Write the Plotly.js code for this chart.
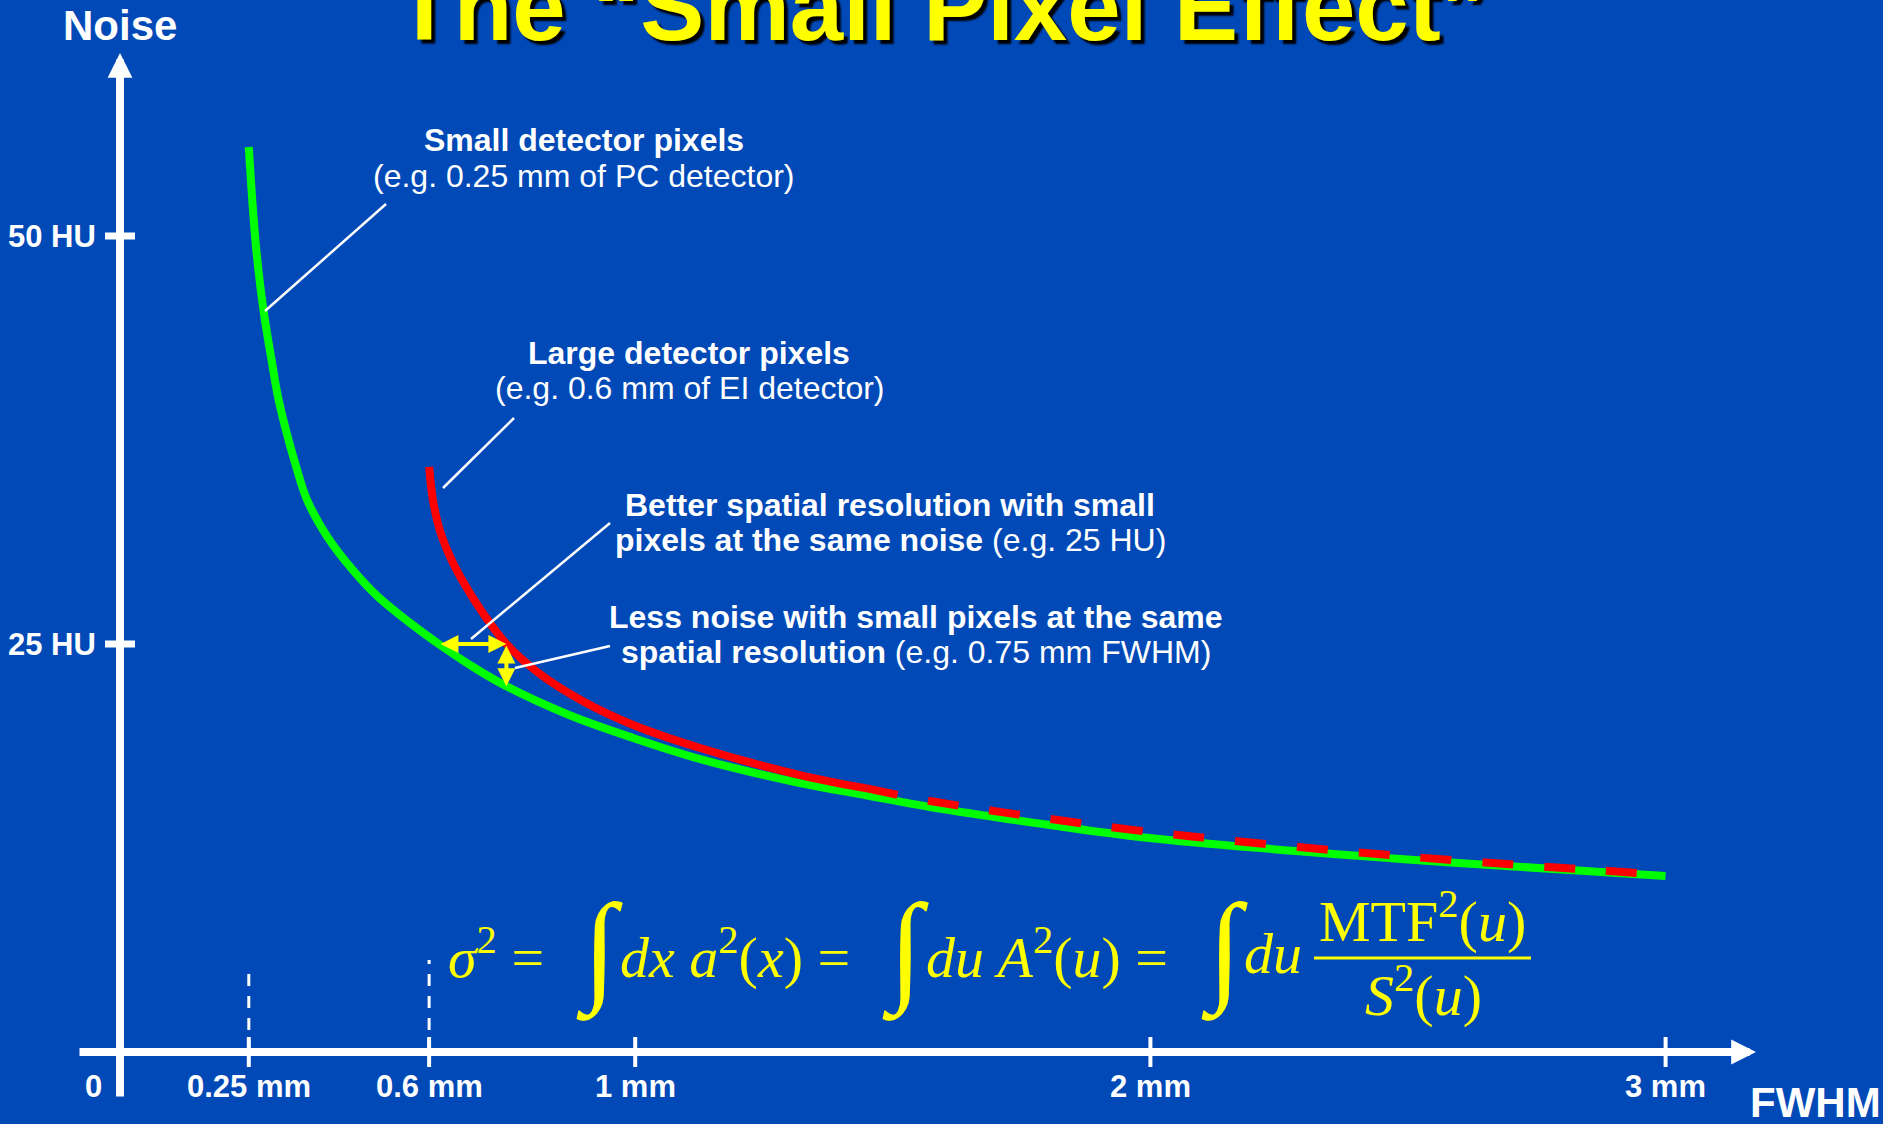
<!DOCTYPE html>
<html>
<head>
<meta charset="utf-8">
<script src="https://cdn.plot.ly/plotly-3.0.1.min.js"></script>
<style>
  html, body { margin: 0; padding: 0; background: #0049b7; overflow: hidden; }
  #chart { width: 1883px; height: 1124px; }
</style>
</head>
<body>
<div id="chart"></div>
<script>
// Image noise (HU) versus spatial resolution (FWHM, mm) for two detector pixel sizes
const fwhmSmall  = [0.25, 0.2567, 0.2646, 0.2784, 0.2942, 0.308, 0.3415, 0.3633, 0.4027, 0.4521, 0.5014, 0.5606, 0.6242, 0.6856, 0.7488, 0.8716, 0.9963, 1.1261, 1.3201, 1.45, 1.5723, 1.805, 2.0165, 2.4854, 2.8745, 3.0];
const noiseSmall = [55.45, 52.21, 49.14, 45.47, 42.4, 39.95, 35.91, 33.82, 31.56, 29.53, 27.88, 26.35, 24.88, 23.59, 22.43, 20.65, 19.24, 17.95, 16.48, 15.72, 15.01, 13.91, 13.05, 11.83, 11.03, 10.78];

const fwhmLarge  = [0.6, 0.6074, 0.6205, 0.6409, 0.6651, 0.7042, 0.75, 0.8102, 0.8977, 0.9963, 1.1261, 1.3201, 1.45, 1.5723, 1.805, 2.0165, 2.4854, 2.8745, 3.0];
const noiseLarge = [35.85, 33.82, 31.99, 30.33, 28.86, 26.9, 25.0, 23.28, 21.51, 20.04, 18.63, 16.97, 16.15, 15.38, 14.28, 13.42, 12.01, 11.12, 10.85];

// Beyond this width the large-pixel curve meets the small-pixel one and is drawn dashed
const mergeFwhm = 1.45;

// Worked example: same noise level / same resolution
const exampleNoise = 25;    // HU
const exampleFwhm  = 0.75;  // mm

// Axis ticks
const xTickVals = [0.25, 0.6, 1, 2, 3];
const xTickText = ['0.25 mm', '0.6 mm', '1 mm', '2 mm', '3 mm'];
const xGuideVals = [0.25, 0.6];
const yTickVals = [50, 25];
const yTickText = ['50 HU', '25 HU'];

// ---------------------------------------------------------------------------
const W = 1883, H = 1124;
const X0 = 120, XS = 515.2;   // pixel column of 0 mm, pixels per mm
const Y0 = 1052, YS = 16.32;  // pixel row of 0 HU, pixels per HU
const xRange = [-X0 / XS, (W - X0) / XS];
const yRange = [(Y0 - H) / YS, Y0 / YS];
const px = v => v / W;
const py = v => 1 - v / H;
const mmAt = p => (p - X0) / XS;
const huAt = p => (Y0 - p) / YS;

const SANS = 'Liberation Sans, Arial, sans-serif';
const SERIF = 'Liberation Serif, Times New Roman, serif';
const BG = '#0049b7', WHITE = '#ffffff', YELLOW = '#ffff00';
const GREEN = '#00ff00', RED = '#ff0000';

function interpX(xs, ys, y) {           // x where a decreasing curve reaches y
  for (let i = 0; i < ys.length - 1; i++) {
    if ((ys[i] - y) * (ys[i + 1] - y) <= 0) {
      const t = (y - ys[i]) / (ys[i + 1] - ys[i]);
      return xs[i] + t * (xs[i + 1] - xs[i]);
    }
  }
  return xs[0];
}
function interpY(xs, ys, x) {
  for (let i = 0; i < xs.length - 1; i++) {
    if (x >= xs[i] && x <= xs[i + 1]) {
      const t = (x - xs[i]) / (xs[i + 1] - xs[i]);
      return ys[i] + t * (ys[i + 1] - ys[i]);
    }
  }
  return ys[ys.length - 1];
}

const split = fwhmLarge.findIndex(v => v >= mergeFwhm);
const lineStyle = (color, dash) => ({ color, width: 8, shape: 'spline', smoothing: 1, dash: dash || 'solid' });

const traces = [
  { x: fwhmSmall, y: noiseSmall, mode: 'lines', line: lineStyle(GREEN), hoverinfo: 'skip' },
  { x: fwhmLarge.slice(0, split + 1), y: noiseLarge.slice(0, split + 1), mode: 'lines', line: lineStyle(RED), hoverinfo: 'skip' },
  { x: fwhmLarge.slice(split), y: noiseLarge.slice(split), mode: 'lines', line: lineStyle(RED, '31px,31px'), hoverinfo: 'skip' }
];

// ---------------------------------------------------------------------------
const shapes = [];
// tick marks crossing the axes
yTickVals.forEach(v => shapes.push({
  type: 'line', xref: 'x', yref: 'y', xsizemode: 'pixel', xanchor: 0,
  x0: -15, x1: 15, y0: v, y1: v, line: { color: WHITE, width: 7 }
}));
xTickVals.forEach(v => shapes.push({
  type: 'line', xref: 'x', yref: 'y', ysizemode: 'pixel', yanchor: 0,
  x0: v, x1: v, y0: -15, y1: 15, line: { color: WHITE, width: 4 }
}));
// dashed guides above the detector pixel sizes
xGuideVals.forEach((v, i) => shapes.push({
  type: 'line', xref: 'x', yref: 'y', ysizemode: 'pixel', yanchor: 0,
  x0: v, x1: v, y0: 0, y1: i === 0 ? 80 : 92, line: { color: WHITE, width: 3, dash: '12px,10px' }
}));
// callout leader lines
[[386, 204, 265, 311], [514, 418, 443, 488], [610, 523, 471, 639], [610, 646, 515, 668]].forEach(s => shapes.push({
  type: 'line', xref: 'paper', yref: 'paper', x0: px(s[0]), y0: py(s[1]), x1: px(s[2]), y1: py(s[3]),
  line: { color: WHITE, width: 2.5 }
}));
// fraction bar of the noise formula
shapes.push({ type: 'line', xref: 'paper', yref: 'paper', x0: px(1314), x1: px(1531), y0: py(958), y1: py(958),
  line: { color: YELLOW, width: 3 } });

// ---------------------------------------------------------------------------
const ann = [];
function text(t, xPix, yPix, size, o) {
  ann.push(Object.assign({
    text: t, xref: 'paper', yref: 'paper', x: px(xPix), y: py(yPix),
    xanchor: 'center', yanchor: 'middle', showarrow: false,
    font: { family: SANS, size: size, color: WHITE }
  }, o || {}));
}

// title and axis names
text('<b>The “Small Pixel Effect”</b>', 942, 6, 96,
  { font: { family: SANS, size: 96, color: YELLOW, shadow: '4px 4px 2px #000000' } });
text('<b>Noise</b>', 120, 26, 42);
text('<b>FWHM</b>', 1815, 1102, 42);

// axis arrows
const arrow = (x, y, ax, ay) => ann.push({
  x, y, ax, ay, xref: 'x', yref: 'y', axref: 'x', ayref: 'y', text: '', showarrow: true,
  arrowhead: 2, arrowsize: 0.62, arrowwidth: 8, arrowcolor: WHITE, standoff: 0
});
arrow(mmAt(1756), 0, mmAt(78), 0);
arrow(0, huAt(53), 0, huAt(1098));

// tick labels
xTickVals.forEach((v, i) => ann.push({
  text: '<b>' + xTickText[i] + '</b>', x: v, y: py(1086), xref: 'x', yref: 'paper',
  xanchor: 'center', yanchor: 'middle', showarrow: false, font: { family: SANS, size: 31, color: WHITE }
}));
text('<b>0</b>', 93, 1086, 31);
yTickVals.forEach((v, i) => ann.push({
  text: '<b>' + yTickText[i] + '</b>', x: px(98), y: v, xref: 'paper', yref: 'y',
  xanchor: 'right', yanchor: 'middle', showarrow: false, font: { family: SANS, size: 31, color: WHITE }
}));

// callouts
text('<b>Small detector pixels</b>', 584, 140, 32);
text('(e.g. 0.25 mm of PC detector)', 584, 176, 32);
text('<b>Large detector pixels</b>', 689, 353, 32);
text('(e.g. 0.6 mm of EI detector)', 689, 388, 32);
text('<b>Better spatial resolution with small</b>', 890, 505, 32);
text('<b>pixels at the same noise</b> (e.g. 25 HU)', 890, 540, 32);
text('<b>Less noise with small pixels at the same</b>', 916, 617, 32);
text('<b>spatial resolution</b> (e.g. 0.75 mm FWHM)', 916, 652, 32);

// double-headed comparison arrows
const greenAtNoise = interpX(fwhmSmall, noiseSmall, exampleNoise);
const greenAtFwhm = interpY(fwhmSmall, noiseSmall, exampleFwhm);
const twoWay = (x, y, ax, ay) => ann.push({
  x, y, ax, ay, xref: 'x', yref: 'y', axref: 'x', ayref: 'y', text: '', showarrow: true,
  arrowside: 'end+start', arrowhead: 2, startarrowhead: 2, arrowsize: 0.9, startarrowsize: 0.9,
  arrowwidth: 4, arrowcolor: YELLOW, standoff: 0, startstandoff: 0
});
twoWay(exampleFwhm, exampleNoise, greenAtNoise, exampleNoise);
twoWay(exampleFwhm, greenAtFwhm, exampleFwhm, exampleNoise);

// noise formula
const fm = (t, xPix, yPix, size, anchor) => text(t, xPix, yPix, size,
  { xanchor: anchor, font: { family: SERIF, size: size, color: YELLOW } });
fm('<i>σ</i><sup>2</sup> =', 446, 953, 58, 'left');
fm('∫', 599, 950, 122, 'center');
fm('<i>dx a</i><sup>2</sup>(<i>x</i>) =', 618, 953, 58, 'left');
fm('∫', 905, 950, 122, 'center');
fm('<i>du A</i><sup>2</sup>(<i>u</i>) =', 924, 953, 58, 'left');
fm('∫', 1224, 950, 122, 'center');
fm('<i>du</i>', 1242, 953, 58, 'left');
fm('MTF<sup>2</sup>(<i>u</i>)', 1422, 917, 58, 'center');
fm('<i>S</i><sup>2</sup>(<i>u</i>)', 1423, 991, 58, 'center');

const layout = {
  width: W, height: H,
  margin: { l: 0, r: 0, t: 0, b: 0, pad: 0 },
  paper_bgcolor: BG, plot_bgcolor: BG,
  showlegend: false,
  xaxis: { range: xRange, visible: false, fixedrange: true },
  yaxis: { range: yRange, visible: false, fixedrange: true },
  shapes: shapes,
  annotations: ann
};

Plotly.newPlot('chart', traces, layout, { displayModeBar: false, staticPlot: true });
</script>
</body>
</html>
